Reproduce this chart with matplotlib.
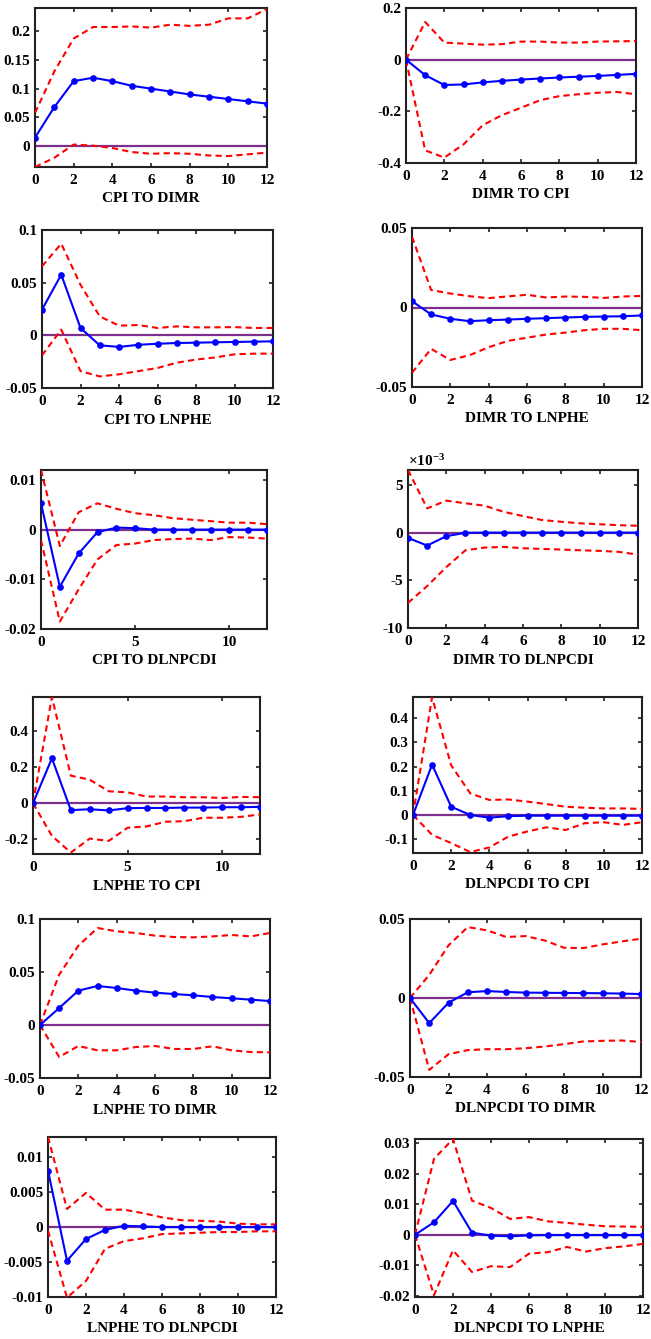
import matplotlib
matplotlib.use("Agg")
import matplotlib.pyplot as plt
from matplotlib.ticker import FuncFormatter

plt.rcParams['font.family'] = ['Liberation Serif', 'DejaVu Serif']
plt.rcParams['font.weight'] = 'bold'
plt.rcParams['font.size'] = 11
plt.rcParams['axes.unicode_minus'] = False
plt.rcParams['mathtext.fontset'] = 'custom'
plt.rcParams['mathtext.rm'] = 'Liberation Serif:bold'
plt.rcParams['mathtext.it'] = 'Liberation Serif:bold'
plt.rcParams['mathtext.bf'] = 'Liberation Serif:bold'

horizon = list(range(13))

# impulse responses (blue), upper and lower bands (red dashed)
cpi_dimr = [0.015, 0.068, 0.113, 0.119, 0.113, 0.105, 0.100, 0.095, 0.090, 0.086, 0.082, 0.078, 0.074]
cpi_dimr_up = [0.058, 0.130, 0.187, 0.207, 0.207, 0.208, 0.206, 0.211, 0.209, 0.211, 0.222, 0.222, 0.238]
cpi_dimr_lo = [-0.036, -0.020, 0.003, 0.001, -0.003, -0.010, -0.013, -0.012, -0.013, -0.016, -0.017, -0.014, -0.011]

dimr_cpi = [0.0, -0.060, -0.098, -0.096, -0.088, -0.082, -0.077, -0.073, -0.069, -0.066, -0.063, -0.059, -0.055]
dimr_cpi_up = [0.0, 0.146, 0.066, 0.062, 0.058, 0.060, 0.070, 0.070, 0.066, 0.066, 0.070, 0.071, 0.072]
dimr_cpi_lo = [0.0, -0.351, -0.379, -0.328, -0.254, -0.215, -0.186, -0.157, -0.141, -0.134, -0.128, -0.125, -0.134]

cpi_lnphe = [0.0244, 0.0576, 0.0070, -0.0095, -0.0110, -0.0090, -0.0080, -0.0073, -0.0070, -0.0066, -0.0063, -0.0060, -0.0057]
cpi_lnphe_up = [0.0655, 0.0870, 0.0480, 0.0180, 0.0092, 0.0098, 0.0070, 0.0085, 0.0076, 0.0076, 0.0078, 0.0070, 0.0070]
cpi_lnphe_lo = [-0.0190, 0.0054, -0.0340, -0.0390, -0.0370, -0.0340, -0.0310, -0.0260, -0.0230, -0.0210, -0.0180, -0.0174, -0.0174]

dimr_lnphe = [0.0040, -0.0044, -0.0071, -0.0086, -0.0080, -0.0076, -0.0071, -0.0067, -0.0063, -0.0059, -0.0057, -0.0055, -0.0050]
dimr_lnphe_up = [0.0445, 0.0110, 0.0088, 0.0071, 0.0059, 0.0070, 0.0080, 0.0063, 0.0069, 0.0067, 0.0060, 0.0069, 0.0073]
dimr_lnphe_lo = [-0.0410, -0.0260, -0.0330, -0.0300, -0.0250, -0.0210, -0.0190, -0.0170, -0.0158, -0.0143, -0.0134, -0.0134, -0.0143]

cpi_dlnpcdi = [0.0053, -0.0115, -0.0048, -0.0005, 0.0004, 0.0003, 0.0, 0.0, 0.0, 0.0, 0.0, 0.0, 0.0]
cpi_dlnpcdi_up = [0.0120, -0.0033, 0.0035, 0.0053, 0.0042, 0.0033, 0.0029, 0.0023, 0.0020, 0.0017, 0.0014, 0.0014, 0.0011]
cpi_dlnpcdi_lo = [-0.0021, -0.0185, -0.0120, -0.0060, -0.0031, -0.0028, -0.0021, -0.0019, -0.0018, -0.0021, -0.0015, -0.0016, -0.0018]

dimr_dlnpcdi = [-0.00053, -0.00134, -0.00035, 0.0, 0.00002, 0.00002, 0.00002, 0.00002, 0.00002, 0.00002, 0.00002, 0.00002, 0.00002]
dimr_dlnpcdi_up = [0.0066, 0.00257, 0.00338, 0.0031, 0.00285, 0.0022, 0.00176, 0.00134, 0.00116, 0.0010, 0.0009, 0.0008, 0.00074]
dimr_dlnpcdi_lo = [-0.00736, -0.0056, -0.0036, -0.00183, -0.00155, -0.00148, -0.00162, -0.00169, -0.00176, -0.00183, -0.0019, -0.0020, -0.00229]

lnphe_cpi = [0.0, 0.248, -0.038, -0.033, -0.040, -0.027, -0.026, -0.026, -0.024, -0.024, -0.022, -0.022, -0.020]
lnphe_cpi_up = [0.0, 0.586, 0.152, 0.130, 0.066, 0.060, 0.037, 0.037, 0.033, 0.033, 0.029, 0.035, 0.033]
lnphe_cpi_lo = [0.0, -0.180, -0.272, -0.195, -0.208, -0.135, -0.128, -0.102, -0.099, -0.080, -0.080, -0.075, -0.062]

dlnpcdi_cpi = [0.0, 0.208, 0.034, 0.0, -0.011, -0.005, -0.003, -0.003, -0.003, -0.003, -0.003, -0.003, -0.003]
dlnpcdi_cpi_up = [0.0, 0.486, 0.205, 0.089, 0.062, 0.064, 0.055, 0.045, 0.034, 0.030, 0.027, 0.027, 0.025]
dlnpcdi_cpi_lo = [0.0, -0.082, -0.116, -0.153, -0.134, -0.089, -0.068, -0.051, -0.062, -0.034, -0.030, -0.041, -0.030]

lnphe_dimr = [0.0, 0.0160, 0.0324, 0.0368, 0.0349, 0.0324, 0.0305, 0.0292, 0.0280, 0.0264, 0.0252, 0.0239, 0.0226]
lnphe_dimr_up = [0.0, 0.0475, 0.0748, 0.0915, 0.0884, 0.0868, 0.0843, 0.0830, 0.0827, 0.0836, 0.0849, 0.0836, 0.0868]
lnphe_dimr_lo = [0.0, -0.0302, -0.0198, -0.0239, -0.0239, -0.0208, -0.0198, -0.0226, -0.0226, -0.0201, -0.0239, -0.0255, -0.0258]

dlnpcdi_dimr = [0.0, -0.0159, -0.0030, 0.0036, 0.0044, 0.0038, 0.0034, 0.0033, 0.0032, 0.0031, 0.0030, 0.0028, 0.0025]
dlnpcdi_dimr_up = [0.0, 0.0146, 0.0333, 0.0449, 0.0428, 0.0386, 0.0392, 0.0364, 0.0318, 0.0316, 0.0339, 0.0358, 0.0375]
dlnpcdi_dimr_lo = [0.0, -0.0455, -0.0356, -0.0330, -0.0324, -0.0324, -0.0318, -0.0307, -0.0292, -0.0275, -0.0271, -0.0269, -0.0278]

lnphe_dlnpcdi = [0.0081, -0.0048, -0.0017, -0.0004, 0.0002, 0.0001, 0.0, 0.0, 0.0, 0.0, 0.0, 0.0, 0.0]
lnphe_dlnpcdi_up = [0.0129, 0.0026, 0.0049, 0.0025, 0.0025, 0.0020, 0.0014, 0.0010, 0.0009, 0.0008, 0.0005, 0.0004, 0.0004]
lnphe_dlnpcdi_lo = [-0.0005, -0.0101, -0.0077, -0.0031, -0.0020, -0.0016, -0.0010, -0.0009, -0.0008, -0.0007, -0.0007, -0.0006, -0.0006]

dlnpcdi_lnphe = [0.0, 0.0041, 0.0111, 0.0007, -0.0003, -0.0005, -0.0002, -0.0001, -0.0001, -0.0001, -0.0001, -0.0001, -0.0001]
dlnpcdi_lnphe_up = [0.0, 0.0249, 0.0314, 0.0112, 0.0088, 0.0052, 0.0058, 0.0044, 0.0039, 0.0033, 0.0028, 0.0027, 0.0026]
dlnpcdi_lnphe_lo = [0.0, -0.0198, -0.0051, -0.0122, -0.0103, -0.0106, -0.0062, -0.0057, -0.0040, -0.0055, -0.0044, -0.0038, -0.0030]

titles = ['CPI TO DIMR', 'DIMR TO CPI', 'CPI TO LNPHE', 'DIMR TO LNPHE',
          'CPI TO DLNPCDI', 'DIMR TO DLNPCDI', 'LNPHE TO CPI', 'DLNPCDI TO CPI',
          'LNPHE TO DIMR', 'DLNPCDI TO DIMR', 'LNPHE TO DLNPCDI', 'DLNPCDI TO LNPHE']
responses = [cpi_dimr, dimr_cpi, cpi_lnphe, dimr_lnphe, cpi_dlnpcdi, dimr_dlnpcdi,
             lnphe_cpi, dlnpcdi_cpi, lnphe_dimr, dlnpcdi_dimr, lnphe_dlnpcdi, dlnpcdi_lnphe]
uppers = [cpi_dimr_up, dimr_cpi_up, cpi_lnphe_up, dimr_lnphe_up, cpi_dlnpcdi_up, dimr_dlnpcdi_up,
          lnphe_cpi_up, dlnpcdi_cpi_up, lnphe_dimr_up, dlnpcdi_dimr_up, lnphe_dlnpcdi_up, dlnpcdi_lnphe_up]
lowers = [cpi_dimr_lo, dimr_cpi_lo, cpi_lnphe_lo, dimr_lnphe_lo, cpi_dlnpcdi_lo, dimr_dlnpcdi_lo,
          lnphe_cpi_lo, dlnpcdi_cpi_lo, lnphe_dimr_lo, dlnpcdi_dimr_lo, lnphe_dlnpcdi_lo, dlnpcdi_lnphe_lo]

yticks = [[0, 0.05, 0.1, 0.15, 0.2], [-0.4, -0.2, 0, 0.2], [-0.05, 0, 0.05, 0.1], [-0.05, 0, 0.05],
          [-0.02, -0.01, 0, 0.01], [-0.01, -0.005, 0, 0.005], [-0.2, 0, 0.2, 0.4],
          [-0.1, 0, 0.1, 0.2, 0.3, 0.4], [-0.05, 0, 0.05, 0.1], [-0.05, 0, 0.05],
          [-0.01, -0.005, 0, 0.005, 0.01], [-0.02, -0.01, 0, 0.01, 0.02, 0.03]]
ylims = [(-0.036, 0.24), (-0.4, 0.2), (-0.05, 0.1), (-0.05, 0.05), (-0.02, 0.012), (-0.01, 0.0066),
         (-0.28, 0.586), (-0.157, 0.487), (-0.05, 0.1), (-0.05, 0.05), (-0.01, 0.0129), (-0.0204, 0.0314)]
xticks_5 = [4, 6]  # panels with 0,5,10 ticks

# axes boxes in pixels: left, top, right, bottom
boxes = [(35, 8, 267, 167), (406, 8, 636, 163),
         (42, 230, 273, 388), (412, 228, 642, 387),
         (41, 470, 267, 629), (408, 470, 638, 628),
         (33, 697, 260, 854), (413, 697, 642, 853),
         (40, 919, 270, 1078), (410, 919, 641, 1077),
         (48, 1137, 276, 1297), (415, 1139, 643, 1297)]

W, H = 651, 1339
fig = plt.figure(figsize=(W / 100, H / 100), dpi=100)

for i in range(12):
    l, t, r, b = boxes[i]
    ax = fig.add_axes([l / W, 1 - b / H, (r - l) / W, (b - t) / H])
    ax.axhline(0, color='#7E2F8E', lw=1.6, zorder=2)
    ax.plot(horizon, uppers[i], color='red', lw=1.5, dashes=(3, 2), zorder=3)
    ax.plot(horizon, lowers[i], color='red', lw=1.5, dashes=(3, 2), zorder=3)
    ax.plot(horizon, responses[i], color='blue', lw=1.5, marker='o', ms=3.8, zorder=4)
    ax.set_xlim(0, 12)
    ax.set_ylim(*ylims[i])
    if i in xticks_5:
        ax.set_xticks([0, 5, 10])
    else:
        ax.set_xticks(range(0, 13, 2))
    ax.set_yticks(yticks[i])
    if i == 5:
        ax.yaxis.set_major_formatter(FuncFormatter(lambda v, p: '%g' % round(v * 1000, 6)))
        ax.text(0.0, 1.005, r'$\times$10$^{-3}$', transform=ax.transAxes, ha='left', va='bottom',
                fontsize=11)
    else:
        ax.yaxis.set_major_formatter(FuncFormatter(lambda v, p: '%g' % round(v, 6)))
    ax.tick_params(direction='in', top=True, right=True, length=3, width=1.2, pad=5,
                   labelsize=11, color='#222222')
    ax.tick_params(axis='y', pad=3.5)
    for s in ax.spines.values():
        s.set_linewidth(1.5)
        s.set_color('#222222')
    ax.set_xlabel(titles[i], fontsize=11, fontweight='bold', labelpad=4)

fig.savefig('out.png', dpi=100)
